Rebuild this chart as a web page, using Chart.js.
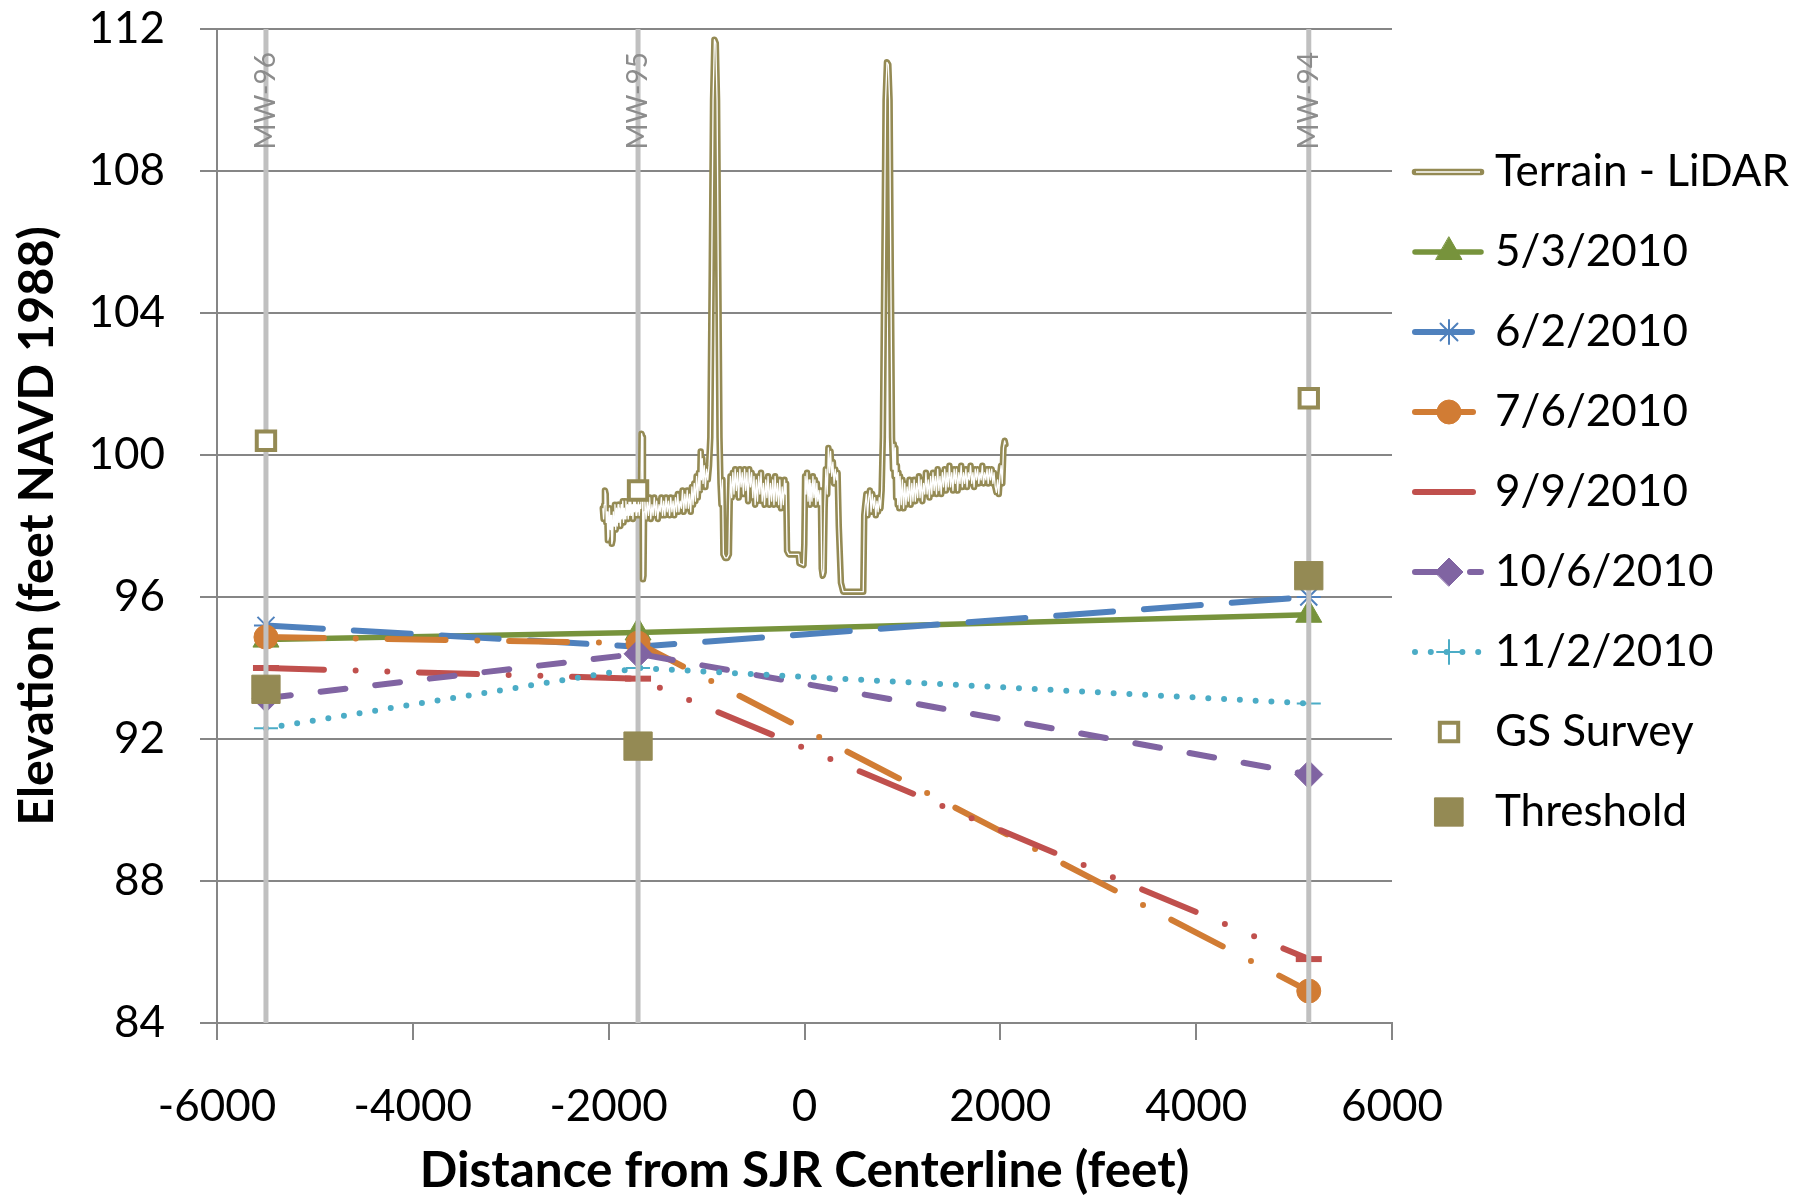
<!DOCTYPE html>
<html>
<head>
<meta charset="utf-8">
<title>Elevation vs. distance from SJR centerline</title>
<script src="https://cdn.jsdelivr.net/npm/chart.js@4.4.1/dist/chart.umd.min.js"></script>
<style>
  html, body { margin: 0; padding: 0; background: #fff; }
  #wrap { width: 1805px; height: 1201px; position: relative; }
</style>
</head>
<body>
<div id="wrap"><canvas id="chart"></canvas></div>
<script>
// monitoring wells, distance from SJR centerline (feet)
var wellNames = ['MW-96', 'MW-95', 'MW-94'];
var wellX = [-5500, -1700, 5150];

// groundwater elevation at each well (feet NAVD 1988)
var dates = ['5/3/2010', '6/2/2010', '7/6/2010', '9/9/2010', '10/6/2010', '11/2/2010'];
var elev0503 = [94.8, 95.0, 95.5];
var elev0602 = [95.2, 94.6, 96.0];
var elev0706 = [94.87, 94.7, 84.9];
var elev0909 = [94.0, 93.7, 85.8];
var elev1006 = [93.15, 94.4, 91.0];
var elev1102 = [92.3, 94.0, 93.0];

var gsSurvey = [100.4, 99.0, 101.6];
var threshold = [93.4, 91.8, 96.6];

// LiDAR terrain profile across the river (x, elevation pairs)
var terrainX = [
  -2060, -2052, -2045, -2038, -2030, -2024, -2016, -2008, -2000, -1992, -1984, -1976, -1968, -1960,
  -1952, -1944, -1936, -1928, -1920, -1912, -1904, -1896, -1888, -1880, -1872, -1864, -1856, -1848,
  -1840, -1832, -1824, -1816, -1808, -1800, -1792, -1784, -1776, -1768, -1760, -1752, -1744, -1736,
  -1728, -1720, -1712, -1704, -1696, -1688, -1680, -1672,
  -1664, -1656, -1650, -1644, -1638,
  -1630, -1618, -1606, -1594, -1582, -1570, -1558, -1546, -1534, -1522, -1510, -1498, -1486, -1474,
  -1462, -1450, -1438, -1426, -1414, -1402, -1390, -1378, -1366, -1354, -1342, -1330, -1318, -1306,
  -1294, -1282, -1270, -1258, -1246, -1234, -1222, -1210, -1198, -1186, -1174, -1162, -1150, -1138,
  -1126, -1114, -1102,
  -1090, -1078, -1068, -1060, -1052, -1044, -1036, -1024, -1012, -1000, -988, -975,
  -962, -948, -934, -920, -906, -893, -880, -868, -858, -848, -838, -828, -810, -790, -772, -764, -756,
  -744, -732, -720, -708, -696, -684, -672, -660, -648, -636, -624, -612, -600, -588, -576, -564,
  -552, -540, -528, -516, -504, -492, -480, -468, -456, -444, -432, -420, -408, -396, -384, -372,
  -360, -348, -336, -324, -312, -300, -288, -276, -264, -252, -240, -228, -216, -204, -196, -188,
  -178, -160, -100, -60, -52, -10, -2, 6,
  16, 26, 36, 46, 56, 66, 76, 86, 96, 106, 116, 126, 136, 146, 156, 166,
  176, 186, 196, 206, 218, 232, 244, 256, 266, 278, 290, 302, 314, 326, 338, 350, 372, 395, 500, 600, 610,
  620, 632, 644, 656, 668, 680, 692, 704, 716, 728, 740, 752, 764, 776, 788,
  800, 814, 828, 842, 856, 869, 882, 894, 904,
  912, 920, 928, 936, 944, 952, 960, 968, 976, 988, 1000, 1012, 1024, 1036, 1048, 1060, 1072, 1084,
  1096, 1108, 1120, 1132, 1144, 1156, 1168, 1180, 1192, 1204, 1216, 1228, 1240, 1252, 1264, 1276,
  1288, 1300, 1312, 1324, 1336, 1348, 1360, 1372, 1384, 1396, 1408, 1420, 1432, 1444, 1456, 1468,
  1480, 1492, 1504, 1516, 1528, 1540, 1552, 1564, 1576, 1588, 1600, 1612, 1624, 1636, 1648, 1660,
  1672, 1684, 1696, 1708, 1720, 1732, 1744, 1756, 1768, 1780, 1792, 1804, 1816, 1828, 1840, 1852,
  1864, 1876, 1888, 1900, 1912, 1924, 1936, 1948, 1960, 1972, 1984, 1996, 2008, 2020, 2032, 2044, 2052];
var terrainY = [
  98.5, 98.2, 98.6, 99.0, 98.9, 98.1, 98.4, 97.6, 97.7, 98.5, 97.9, 98.3, 97.5, 97.6,
  98.4, 98.0, 98.6, 97.9, 98.5, 98.0, 98.6, 98.1, 98.5, 98.0, 98.6, 98.2, 98.7, 98.1,
  98.5, 98.2, 98.7, 98.3, 98.6, 98.2, 98.7, 98.3, 98.8, 98.3, 98.6, 98.2, 98.7, 98.4,
  98.8, 98.3, 98.6, 98.4, 98.7, 98.3, 98.6, 98.5,
  100.6, 100.5, 96.5, 96.6, 98.4,
  98.7, 98.2, 98.7, 98.3, 98.8, 98.2, 98.6, 98.3, 98.8, 98.3, 98.7, 98.2, 98.6, 98.4,
  98.8, 98.3, 98.7, 98.3, 98.8, 98.4, 98.7, 98.3, 98.8, 98.4, 98.7, 98.3, 98.8, 98.4,
  98.9, 98.4, 98.7, 98.5, 99.0, 98.4, 98.9, 98.5, 99.0, 98.5, 98.9, 98.4, 99.1, 98.6,
  99.2, 98.7, 99.4,
  98.8, 99.5, 99.0, 100.1, 99.3, 99.9, 99.2, 99.7, 99.1, 99.6, 99.3, 99.7,
  100.5, 105.0, 110.0, 111.7, 111.6, 110.0, 105.0, 100.5, 99.2, 98.6, 99.3, 97.2, 97.1, 97.1, 97.2, 98.6, 99.4,
  98.8, 99.5, 98.9, 99.6, 99.0, 99.5, 98.8, 99.6, 99.1, 99.5, 98.9, 99.6, 99.0, 99.5, 98.7, 99.6,
  99.1, 99.5, 98.8, 99.4, 98.6, 99.3, 98.7, 99.4, 98.9, 99.5, 98.7, 99.2, 98.6, 99.3, 98.8, 99.4,
  98.6, 99.2, 98.7, 99.3, 98.6, 99.4, 98.7, 99.2, 98.6, 99.3, 98.5, 99.1, 98.6, 99.3, 98.9, 99.2,
  97.3, 97.2, 97.2, 97.2, 96.95, 96.9, 97.5, 99.4,
  98.9, 99.5, 98.7, 99.3, 98.6, 99.2, 98.7, 99.4, 98.8, 99.3, 98.6, 99.2, 98.7, 99.0, 98.6, 99.0,
  96.8, 96.6, 96.7, 98.5, 99.6, 98.9, 100.2, 99.5, 100.1, 99.4, 99.8, 99.2, 99.6, 99.3, 99.5, 98.0, 96.4, 96.15, 96.15, 96.15, 98.3,
  98.6, 98.9, 98.3, 98.8, 99.0, 98.4, 98.9, 98.5, 98.8, 98.3, 98.7, 98.4, 98.8, 98.5, 99.0,
  100.5, 105.0, 110.0, 111.06, 111.0, 110.0, 105.0, 100.5, 99.6,
  100.3, 99.4, 100.2, 98.8, 99.7, 98.6, 99.5, 98.5, 99.4, 98.6, 99.3, 98.5, 99.2, 98.6, 99.1, 98.7, 99.3, 98.6,
  99.2, 98.7, 99.3, 98.7, 99.2, 98.8, 99.4, 98.8, 99.3, 98.7, 99.2, 98.9, 99.5, 98.9, 99.3, 98.8,
  99.4, 98.9, 99.5, 99.0, 99.4, 98.9, 99.6, 99.0, 99.4, 98.9, 99.5, 99.1, 99.6, 99.0, 99.5, 99.1,
  99.7, 99.1, 99.5, 99.0, 99.6, 99.2, 99.6, 99.0, 99.5, 99.2, 99.7, 99.1, 99.5, 99.2, 99.6, 99.1,
  99.5, 99.3, 99.7, 99.2, 99.5, 99.1, 99.6, 99.3, 99.6, 99.2, 99.5, 99.3, 99.7, 99.2, 99.5, 99.3,
  99.6, 99.2, 99.6, 99.3, 99.6, 99.2, 99.5, 99.1, 98.95, 99.3, 98.9, 99.4, 99.7, 99.2, 100.2, 100.4, 100.3];

var xTicks = [-6000, -4000, -2000, 0, 2000, 4000, 6000];
var yTicks = [84, 88, 92, 96, 100, 104, 108, 112];

var olive = '#948A54';
var gridGray = '#868686';

function pts(xs, ys) {
  return xs.map(function(x, i) { return { x: x, y: ys[i] }; });
}

function dateSet(label, ys, color, dash, style, radius, rank, order, extra) {
  var ds = {
    label: label,
    data: pts(wellX, ys),
    showLine: true,
    borderColor: color,
    borderWidth: 6,
    borderDash: dash,
    borderCapStyle: 'round',
    borderJoinStyle: 'round',
    pointStyle: style,
    pointRadius: radius,
    pointBackgroundColor: color,
    pointBorderColor: color,
    pointBorderWidth: 1,
    legendRank: rank,
    order: order
  };
  for (var k in extra) ds[k] = extra[k];
  return ds;
}

var datasets = [
  {
    label: 'Threshold', data: pts(wellX, threshold), showLine: false,
    pointStyle: 'rect', pointRadius: 20, pointBackgroundColor: olive,
    pointBorderColor: olive, pointBorderWidth: 1, legendRank: 8, order: 0
  },
  {
    label: 'GS Survey', data: pts(wellX, gsSurvey), showLine: false,
    pointStyle: 'rect', pointRadius: 13, pointBackgroundColor: '#fff',
    pointBorderColor: olive, pointBorderWidth: 4, legendRank: 7, order: 1
  },
  {
    label: 'Terrain - LiDAR (inner)', data: pts(terrainX, terrainY), showLine: true,
    borderColor: '#fff', borderWidth: 1.3, pointRadius: 0, borderJoinStyle: 'round',
    order: 2
  },
  {
    label: 'Terrain - LiDAR', data: pts(terrainX, terrainY), showLine: true,
    borderColor: olive, borderWidth: 6.5, pointRadius: 0, borderJoinStyle: 'round',
    borderCapStyle: 'round', legendRank: 0, order: 3, doubleLine: true
  }
];

// vertical well lines
wellX.forEach(function(x, i) {
  datasets.push({
    label: wellNames[i], data: pts([x, x], [84, 112]), showLine: true,
    borderColor: '#C0C0C0', borderWidth: 5, pointRadius: 0, order: 4
  });
});

datasets.push(
  dateSet(dates[5], elev1102, '#4BACC6', [0, 15.8], 'cross', 12, 6, 5, { pointBorderWidth: 2 }),
  dateSet(dates[4], elev1006, '#8064A2', [25, 30], 'rectRot', 14, 5, 6, {}),
  dateSet(dates[3], elev0909, '#C0504D', [58, 31.7, 0, 31.7, 0, 31.7], 'line', 13, 4, 7, { pointBorderWidth: 6 }),
  dateSet(dates[2], elev0706, '#D17C34', [58, 31.8, 0, 31.8], 'circle', 12, 3, 8, {}),
  dateSet(dates[1], elev0602, '#4F81BD', [57, 31], 'star', 12, 2, 9, { pointBorderWidth: 2 }),
  dateSet(dates[0], elev0503, '#77933C', [], 'triangle', 15, 1, 10, { borderWidth: 5.5 })
);

var wellLabels = {
  id: 'wellLabels',
  afterDatasetsDraw: function(chart) {
    var ctx = chart.ctx, xs = chart.scales.x, top = chart.chartArea.top;
    ctx.save();
    ctx.font = '28px Lato';
    ctx.fillStyle = '#8C8C8C';
    ctx.textAlign = 'right';
    ctx.textBaseline = 'middle';
    wellX.forEach(function(x, i) {
      ctx.save();
      ctx.translate(xs.getPixelForValue(x), top + 23);
      ctx.rotate(-Math.PI / 2);
      ctx.fillText(wellNames[i], 0, 0);
      ctx.restore();
    });
    ctx.restore();
  }
};

var sideLegend = {
  id: 'sideLegend',
  afterDraw: function(chart) {
    var ctx = chart.ctx;
    var x0 = chart.chartArea.right + 23, x1 = x0 + 66, xm = x0 + 34, xt = x0 + 80;
    var items = chart.data.datasets.filter(function(d) { return d.legendRank != null; })
      .sort(function(a, b) { return a.legendRank - b.legendRank; });
    ctx.save();
    items.forEach(function(d, i) {
      var y = 172 + i * 80;
      if (d.showLine) {
        ctx.setLineDash(d.borderDash || []);
        ctx.lineCap = d.borderCapStyle || 'butt';
        ctx.strokeStyle = d.borderColor;
        ctx.lineWidth = d.borderWidth;
        ctx.beginPath(); ctx.moveTo(x0, y); ctx.lineTo(x1, y); ctx.stroke();
        if (d.doubleLine) {
          ctx.strokeStyle = '#fff'; ctx.lineWidth = 1.5; ctx.lineCap = 'butt';
          ctx.beginPath(); ctx.moveTo(x0 + 1, y); ctx.lineTo(x1 - 1, y); ctx.stroke();
        }
      }
      ctx.setLineDash([]);
      if (d.pointRadius) {
        ctx.fillStyle = d.pointBackgroundColor;
        ctx.strokeStyle = d.pointBorderColor;
        ctx.lineWidth = d.pointBorderWidth;
        Chart.helpers.drawPoint(ctx, {
          pointStyle: d.pointStyle, radius: d.pointRadius,
          borderWidth: d.pointBorderWidth, rotation: 0
        }, xm, y);
      }
      ctx.fillStyle = '#000';
      ctx.font = '44px Lato';
      ctx.textAlign = 'left';
      ctx.textBaseline = 'middle';
      ctx.fillText(d.label, xt, y);
    });
    ctx.restore();
  }
};

Chart.defaults.font.family = 'Lato';

new Chart(document.getElementById('chart'), {
  type: 'scatter',
  data: { datasets: datasets },
  options: {
    responsive: true,
    maintainAspectRatio: false,
    animation: false,
    layout: { padding: { left: 0, right: 413, top: 29, bottom: 0 } },
    plugins: { legend: { display: false }, tooltip: { enabled: false } },
    scales: {
      x: {
        type: 'linear', min: -6000, max: 6000,
        afterBuildTicks: function(axis) { axis.ticks = xTicks.map(function(v) { return { value: v }; }); },
        afterFit: function(axis) { axis.height = 178; },
        grid: { drawOnChartArea: false, drawTicks: true, tickLength: 17, color: gridGray, lineWidth: 2 },
        border: { color: gridGray, width: 2 },
        ticks: {
          font: { size: 44 }, color: '#000', padding: 40, maxRotation: 0, autoSkip: false,
          callback: function(v) { return String(v); }
        },
        title: {
          display: true, text: 'Distance from SJR Centerline (feet)', color: '#000',
          font: { size: 49.5, weight: 'bold' }, padding: { top: 0, bottom: 0 }
        }
      },
      y: {
        type: 'linear', min: 84, max: 112,
        afterBuildTicks: function(axis) { axis.ticks = yTicks.map(function(v) { return { value: v }; }); },
        afterFit: function(axis) { axis.width = 217; axis.paddingTop = 0; axis.paddingBottom = 0; },
        grid: { drawTicks: true, tickLength: 17, color: gridGray, lineWidth: 2 },
        border: { color: gridGray, width: 2 },
        ticks: { font: { size: 44 }, color: '#000', padding: 35, callback: function(v) { return String(v); } },
        title: {
          display: true, text: 'Elevation (feet NAVD 1988)', color: '#000',
          font: { size: 48.5, weight: 'bold' }, padding: { top: 8, bottom: 0 }
        }
      }
    }
  },
  plugins: [wellLabels, sideLegend]
});
</script>
</body>
</html>
